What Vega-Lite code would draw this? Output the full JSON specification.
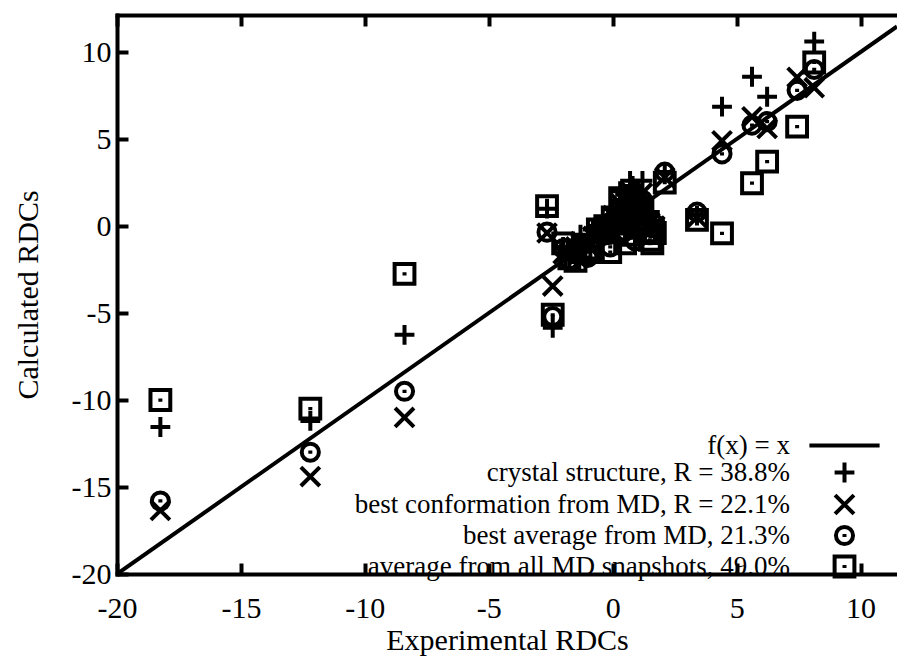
{
  "$schema": "https://vega.github.io/schema/vega-lite/v6.json",
  "width": 780,
  "height": 559,
  "autosize": "none",
  "padding": {"left": 117, "top": 15, "right": 0, "bottom": 86},
  "background": "white",
  "config": {
    "view": {"stroke": null},
    "axis": {
      "grid": false,
      "domain": true,
      "domainColor": "black",
      "domainWidth": 4,
      "domainCap": "square",
      "tickColor": "black",
      "tickWidth": 4,
      "tickSize": -11,
      "labelFlush": false,
      "labelFont": "Liberation Serif",
      "labelFontSize": 30,
      "labelColor": "black",
      "titleFont": "Liberation Serif",
      "titleFontSize": 30,
      "titleFontWeight": "normal",
      "titleColor": "black"
    },
    "legend": {
      "orient": "none",
      "legendX": 714,
      "legendY": 417,
      "labelAlign": "right",
      "labelOffset": -68,
      "labelFont": "Liberation Serif",
      "labelFontSize": 27,
      "labelColor": "black",
      "labelLimit": 0,
      "symbolSize": 324,
      "symbolStrokeWidth": 4,
      "symbolStrokeColor": "black",
      "symbolFillColor": "transparent",
      "symbolOpacity": 1,
      "rowPadding": -8,
      "title": null
    }
  },
  "datasets": {
    "diag": [{"x": -20, "y": -20}, {"x": 11.47, "y": 11.47}],
    "pts": [
      {"x": -18.25, "y": -11.55, "s": "crystal structure, R = 38.8%"},
      {"x": -18.25, "y": -16.35, "s": "best conformation from MD, R = 22.1%"},
      {"x": -18.25, "y": -15.8, "s": "best average from MD, 21.3%"},
      {"x": -18.25, "y": -10.0, "s": "average from all MD snapshots, 49.0%"},
      {"x": -12.2, "y": -11.2, "s": "crystal structure, R = 38.8%"},
      {"x": -12.2, "y": -14.4, "s": "best conformation from MD, R = 22.1%"},
      {"x": -12.2, "y": -13.0, "s": "best average from MD, 21.3%"},
      {"x": -12.2, "y": -10.5, "s": "average from all MD snapshots, 49.0%"},
      {"x": -8.4, "y": -6.25, "s": "crystal structure, R = 38.8%"},
      {"x": -8.4, "y": -11.0, "s": "best conformation from MD, R = 22.1%"},
      {"x": -8.4, "y": -9.5, "s": "best average from MD, 21.3%"},
      {"x": -8.4, "y": -2.75, "s": "average from all MD snapshots, 49.0%"},
      {"x": -2.65, "y": 1.0, "s": "crystal structure, R = 38.8%"},
      {"x": -2.65, "y": -0.4, "s": "best conformation from MD, R = 22.1%"},
      {"x": -2.65, "y": -0.35, "s": "best average from MD, 21.3%"},
      {"x": -2.65, "y": 1.15, "s": "average from all MD snapshots, 49.0%"},
      {"x": -2.42, "y": -5.85, "s": "crystal structure, R = 38.8%"},
      {"x": -2.42, "y": -3.45, "s": "best conformation from MD, R = 22.1%"},
      {"x": -2.42, "y": -5.2, "s": "best average from MD, 21.3%"},
      {"x": -2.42, "y": -5.1, "s": "average from all MD snapshots, 49.0%"},
      {"x": -2.0, "y": -1.2, "s": "crystal structure, R = 38.8%"},
      {"x": -2.0, "y": -1.6, "s": "best conformation from MD, R = 22.1%"},
      {"x": -2.0, "y": -1.3, "s": "best average from MD, 21.3%"},
      {"x": -2.0, "y": -1.0, "s": "average from all MD snapshots, 49.0%"},
      {"x": -1.75, "y": -1.9, "s": "crystal structure, R = 38.8%"},
      {"x": -1.75, "y": -1.5, "s": "best conformation from MD, R = 22.1%"},
      {"x": -1.75, "y": -1.95, "s": "best average from MD, 21.3%"},
      {"x": -1.75, "y": -1.85, "s": "average from all MD snapshots, 49.0%"},
      {"x": -1.5, "y": -1.0, "s": "crystal structure, R = 38.8%"},
      {"x": -1.5, "y": -1.2, "s": "best conformation from MD, R = 22.1%"},
      {"x": -1.5, "y": -1.6, "s": "best average from MD, 21.3%"},
      {"x": -1.5, "y": -2.0, "s": "average from all MD snapshots, 49.0%"},
      {"x": -1.3, "y": -0.5, "s": "crystal structure, R = 38.8%"},
      {"x": -1.3, "y": -0.9, "s": "best conformation from MD, R = 22.1%"},
      {"x": -1.3, "y": -1.0, "s": "best average from MD, 21.3%"},
      {"x": -1.3, "y": -1.4, "s": "average from all MD snapshots, 49.0%"},
      {"x": -1.0, "y": -0.6, "s": "crystal structure, R = 38.8%"},
      {"x": -1.0, "y": -1.1, "s": "best conformation from MD, R = 22.1%"},
      {"x": -1.0, "y": -1.8, "s": "best average from MD, 21.3%"},
      {"x": -1.0, "y": -1.5, "s": "average from all MD snapshots, 49.0%"},
      {"x": -0.8, "y": -0.2, "s": "crystal structure, R = 38.8%"},
      {"x": -0.8, "y": -0.6, "s": "best conformation from MD, R = 22.1%"},
      {"x": -0.8, "y": -0.9, "s": "best average from MD, 21.3%"},
      {"x": -0.8, "y": -1.3, "s": "average from all MD snapshots, 49.0%"},
      {"x": -0.6, "y": 0.0, "s": "crystal structure, R = 38.8%"},
      {"x": -0.6, "y": -0.5, "s": "best conformation from MD, R = 22.1%"},
      {"x": -0.6, "y": -0.7, "s": "best average from MD, 21.3%"},
      {"x": -0.6, "y": -0.2, "s": "average from all MD snapshots, 49.0%"},
      {"x": -0.3, "y": -0.3, "s": "crystal structure, R = 38.8%"},
      {"x": -0.3, "y": -0.1, "s": "best conformation from MD, R = 22.1%"},
      {"x": -0.3, "y": -0.5, "s": "best average from MD, 21.3%"},
      {"x": -0.3, "y": 0.0, "s": "average from all MD snapshots, 49.0%"},
      {"x": -0.1, "y": -0.5, "s": "crystal structure, R = 38.8%"},
      {"x": -0.1, "y": -0.4, "s": "best conformation from MD, R = 22.1%"},
      {"x": -0.1, "y": -1.2, "s": "best average from MD, 21.3%"},
      {"x": -0.1, "y": -1.5, "s": "average from all MD snapshots, 49.0%"},
      {"x": 0.0, "y": 1.0, "s": "crystal structure, R = 38.8%"},
      {"x": 0.0, "y": 0.6, "s": "best conformation from MD, R = 22.1%"},
      {"x": 0.0, "y": 0.3, "s": "best average from MD, 21.3%"},
      {"x": 0.0, "y": 0.5, "s": "average from all MD snapshots, 49.0%"},
      {"x": 0.1, "y": 0.4, "s": "crystal structure, R = 38.8%"},
      {"x": 0.1, "y": 0.2, "s": "best conformation from MD, R = 22.1%"},
      {"x": 0.1, "y": 0.0, "s": "best average from MD, 21.3%"},
      {"x": 0.1, "y": -0.3, "s": "average from all MD snapshots, 49.0%"},
      {"x": 0.3, "y": 2.0, "s": "crystal structure, R = 38.8%"},
      {"x": 0.3, "y": 1.3, "s": "best conformation from MD, R = 22.1%"},
      {"x": 0.3, "y": 1.0, "s": "best average from MD, 21.3%"},
      {"x": 0.3, "y": 1.6, "s": "average from all MD snapshots, 49.0%"},
      {"x": 0.4, "y": 1.5, "s": "crystal structure, R = 38.8%"},
      {"x": 0.4, "y": 0.9, "s": "best conformation from MD, R = 22.1%"},
      {"x": 0.4, "y": 0.6, "s": "best average from MD, 21.3%"},
      {"x": 0.4, "y": 0.2, "s": "average from all MD snapshots, 49.0%"},
      {"x": 0.5, "y": 1.8, "s": "crystal structure, R = 38.8%"},
      {"x": 0.5, "y": 0.2, "s": "best conformation from MD, R = 22.1%"},
      {"x": 0.5, "y": -0.3, "s": "best average from MD, 21.3%"},
      {"x": 0.5, "y": -1.0, "s": "average from all MD snapshots, 49.0%"},
      {"x": 0.6, "y": 1.0, "s": "crystal structure, R = 38.8%"},
      {"x": 0.6, "y": 0.5, "s": "best conformation from MD, R = 22.1%"},
      {"x": 0.6, "y": 0.3, "s": "best average from MD, 21.3%"},
      {"x": 0.6, "y": -0.5, "s": "average from all MD snapshots, 49.0%"},
      {"x": 0.7, "y": 2.6, "s": "crystal structure, R = 38.8%"},
      {"x": 0.7, "y": 2.0, "s": "best conformation from MD, R = 22.1%"},
      {"x": 0.7, "y": 1.8, "s": "best average from MD, 21.3%"},
      {"x": 0.7, "y": 1.2, "s": "average from all MD snapshots, 49.0%"},
      {"x": 0.8, "y": 2.3, "s": "crystal structure, R = 38.8%"},
      {"x": 0.8, "y": 1.6, "s": "best conformation from MD, R = 22.1%"},
      {"x": 0.8, "y": 1.2, "s": "best average from MD, 21.3%"},
      {"x": 0.8, "y": 0.8, "s": "average from all MD snapshots, 49.0%"},
      {"x": 0.9, "y": 2.0, "s": "crystal structure, R = 38.8%"},
      {"x": 0.9, "y": 1.2, "s": "best conformation from MD, R = 22.1%"},
      {"x": 0.9, "y": -0.85, "s": "best average from MD, 21.3%"},
      {"x": 0.9, "y": -0.1, "s": "average from all MD snapshots, 49.0%"},
      {"x": 1.1, "y": 1.5, "s": "crystal structure, R = 38.8%"},
      {"x": 1.1, "y": 0.9, "s": "best conformation from MD, R = 22.1%"},
      {"x": 1.1, "y": 0.7, "s": "best average from MD, 21.3%"},
      {"x": 1.1, "y": 0.4, "s": "average from all MD snapshots, 49.0%"},
      {"x": 1.2, "y": 2.6, "s": "crystal structure, R = 38.8%"},
      {"x": 1.2, "y": 1.9, "s": "best conformation from MD, R = 22.1%"},
      {"x": 1.2, "y": 1.5, "s": "best average from MD, 21.3%"},
      {"x": 1.2, "y": 1.0, "s": "average from all MD snapshots, 49.0%"},
      {"x": 1.3, "y": 0.5, "s": "crystal structure, R = 38.8%"},
      {"x": 1.3, "y": 0.3, "s": "best conformation from MD, R = 22.1%"},
      {"x": 1.3, "y": 0.2, "s": "best average from MD, 21.3%"},
      {"x": 1.3, "y": -0.3, "s": "average from all MD snapshots, 49.0%"},
      {"x": 1.5, "y": 0.8, "s": "crystal structure, R = 38.8%"},
      {"x": 1.5, "y": 0.2, "s": "best conformation from MD, R = 22.1%"},
      {"x": 1.5, "y": -0.5, "s": "best average from MD, 21.3%"},
      {"x": 1.5, "y": -0.8, "s": "average from all MD snapshots, 49.0%"},
      {"x": 1.6, "y": 0.0, "s": "crystal structure, R = 38.8%"},
      {"x": 1.6, "y": -0.2, "s": "best conformation from MD, R = 22.1%"},
      {"x": 1.6, "y": -0.1, "s": "best average from MD, 21.3%"},
      {"x": 1.6, "y": -1.0, "s": "average from all MD snapshots, 49.0%"},
      {"x": 1.7, "y": 0.3, "s": "crystal structure, R = 38.8%"},
      {"x": 1.7, "y": 0.0, "s": "best conformation from MD, R = 22.1%"},
      {"x": 1.7, "y": 0.1, "s": "best average from MD, 21.3%"},
      {"x": 1.7, "y": -0.4, "s": "average from all MD snapshots, 49.0%"},
      {"x": 2.1, "y": 3.1, "s": "crystal structure, R = 38.8%"},
      {"x": 2.1, "y": 2.8, "s": "best conformation from MD, R = 22.1%"},
      {"x": 2.1, "y": 3.1, "s": "best average from MD, 21.3%"},
      {"x": 2.1, "y": 2.5, "s": "average from all MD snapshots, 49.0%"},
      {"x": 3.4, "y": 0.6, "s": "crystal structure, R = 38.8%"},
      {"x": 3.4, "y": 0.5, "s": "best conformation from MD, R = 22.1%"},
      {"x": 3.4, "y": 0.8, "s": "best average from MD, 21.3%"},
      {"x": 3.4, "y": 0.35, "s": "average from all MD snapshots, 49.0%"},
      {"x": 4.41, "y": 6.86, "s": "crystal structure, R = 38.8%"},
      {"x": 4.41, "y": 4.9, "s": "best conformation from MD, R = 22.1%"},
      {"x": 4.41, "y": 4.15, "s": "best average from MD, 21.3%"},
      {"x": 4.41, "y": -0.42, "s": "average from all MD snapshots, 49.0%"},
      {"x": 5.62, "y": 8.58, "s": "crystal structure, R = 38.8%"},
      {"x": 5.62, "y": 6.28, "s": "best conformation from MD, R = 22.1%"},
      {"x": 5.62, "y": 5.8, "s": "best average from MD, 21.3%"},
      {"x": 5.62, "y": 2.46, "s": "average from all MD snapshots, 49.0%"},
      {"x": 6.23, "y": 7.43, "s": "crystal structure, R = 38.8%"},
      {"x": 6.23, "y": 5.61, "s": "best conformation from MD, R = 22.1%"},
      {"x": 6.23, "y": 6.0, "s": "best average from MD, 21.3%"},
      {"x": 6.23, "y": 3.7, "s": "average from all MD snapshots, 49.0%"},
      {"x": 7.44, "y": 8.55, "s": "best conformation from MD, R = 22.1%"},
      {"x": 7.44, "y": 7.8, "s": "best average from MD, 21.3%"},
      {"x": 7.44, "y": 5.71, "s": "average from all MD snapshots, 49.0%"},
      {"x": 8.13, "y": 10.6, "s": "crystal structure, R = 38.8%"},
      {"x": 8.13, "y": 7.95, "s": "best conformation from MD, R = 22.1%"},
      {"x": 8.13, "y": 9.0, "s": "best average from MD, 21.3%"},
      {"x": 8.13, "y": 9.4, "s": "average from all MD snapshots, 49.0%"}
    ]
  },
  "resolve": {"axis": {"x": "independent"}},
  "layer": [
    {
      "data": {"name": "diag"},
      "mark": {"type": "line", "color": "black", "strokeWidth": 4, "clip": true},
      "encoding": {
        "x": {"field": "x", "type": "quantitative",
              "scale": {"domain": [-20, 11.47], "nice": false, "zero": false},
              "axis": {"orient": "top", "values": [-20, -15, -10, -5, 0, 5, 10], "labels": false, "title": null}},
        "y": {"field": "y", "type": "quantitative",
              "scale": {"domain": [-20, 12.13], "nice": false, "zero": false},
              "axis": {"values": [-20, -15, -10, -5, 0, 5, 10], "labelExpr": "'' + datum.value", "labelPadding": 17, "title": "Calculated RDCs", "titlePadding": 28}}
      }
    },
    {
      "data": {"name": "pts"},
      "mark": {"type": "point", "filled": false, "color": "black", "strokeWidth": 4, "size": 324, "opacity": 1, "strokeJoin": "miter"},
      "encoding": {
        "x": {"field": "x", "type": "quantitative",
              "axis": {"orient": "bottom", "values": [-20, -15, -10, -5, 0, 5, 10], "labelExpr": "'' + datum.value", "labelPadding": 30, "title": "Experimental RDCs", "titlePadding": 2}},
        "y": {"field": "y", "type": "quantitative"},
        "shape": {"field": "s", "type": "nominal",
                  "scale": {
                    "domain": ["f(x) = x", "crystal structure, R = 38.8%", "best conformation from MD, R = 22.1%", "best average from MD, 21.3%", "average from all MD snapshots, 49.0%"],
                    "range": ["M-3.9,0H3.9", "M-1.1,0H1.1M0,-1.1V1.1", "M-1.05,-1.05L1.05,1.05M-1.05,1.05L1.05,-1.05", "M0.95,0A0.95,0.95,0,1,1,-0.95,0A0.95,0.95,0,1,1,0.95,0ZM0,-0.18V0.18", "M-1.1,-1.1H1.1V1.1H-1.1ZM0,-0.18V0.18"]
                  }}
      }
    }
  ]
}
